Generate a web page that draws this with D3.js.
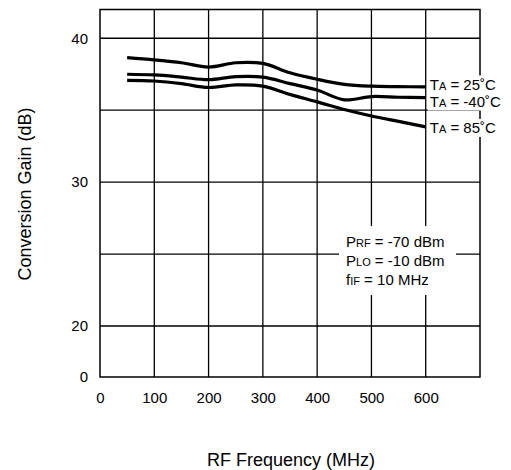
<!DOCTYPE html>
<html>
<head>
<meta charset="utf-8">
<script src="https://cdn.jsdelivr.net/npm/d3@7"></script>
<style>
  body { margin: 0; background: #fff; }
  text { font-family: "Liberation Sans", Arial, sans-serif; fill: #000; }
</style>
</head>
<body>
<div id="chart"></div>
<script>
// Data
var freqs = [50, 100, 150, 200, 250, 300, 350, 400, 450, 500, 550, 600];
var gain25 = [38.66, 38.5, 38.3, 38.0, 38.3, 38.25, 37.6, 37.15, 36.8, 36.67, 36.64, 36.62];
var gainM40 = [37.5, 37.45, 37.3, 37.12, 37.33, 37.3, 36.85, 36.4, 35.72, 35.95, 35.9, 35.88];
var gain85 = [37.08, 37.03, 36.85, 36.58, 36.76, 36.67, 36.1, 35.58, 35.05, 34.6, 34.22, 33.84];
var seriesLabels = ["25˚C", "-40˚C", "85˚C"];
var xTicks = [0, 100, 200, 300, 400, 500, 600];
var yTicks = [0, 20, 30, 40];
var yGrid = [20, 25, 30, 35, 40];

var svgWidth = 511, svgHeight = 470;

var svg = d3.select("#chart")
    .append("svg")
    .attr("width", svgWidth)
    .attr("height", svgHeight);

// scales (y axis is broken between 0 and 20)
var x = d3.scaleLinear().domain([0, 700]).range([100, 480]);
var y = d3.scaleLinear().domain([0, 20, 42]).range([377, 326, 9.5]);

// grid lines
svg.append("g")
    .selectAll("line.v")
    .data(xTicks.slice(1))
    .enter()
    .append("line")
    .attr("x1", d => x(d)).attr("x2", d => x(d))
    .attr("y1", y(42)).attr("y2", y(0))
    .attr("stroke", "#000").attr("stroke-width", 1.3);

svg.append("g")
    .selectAll("line.h")
    .data(yGrid)
    .enter()
    .append("line")
    .attr("x1", x(0)).attr("x2", x(700))
    .attr("y1", d => y(d)).attr("y2", d => y(d))
    .attr("stroke", "#000").attr("stroke-width", 1.3);

// frame
svg.append("rect")
    .attr("x", x(0)).attr("y", y(42))
    .attr("width", x(700) - x(0)).attr("height", y(0) - y(42))
    .attr("fill", "none").attr("stroke", "#000").attr("stroke-width", 1.5);

// tick labels
var xAxis = svg.append("g")
    .attr("transform", `translate(0,${y(0)})`)
    .call(d3.axisBottom(x).tickValues(xTicks).tickSize(0).tickPadding(15));
var yAxis = svg.append("g")
    .attr("transform", `translate(${x(0)},0)`)
    .call(d3.axisLeft(y).tickValues(yTicks).tickSize(0).tickPadding(12));
[xAxis, yAxis].forEach(function(a) {
    a.select(".domain").remove();
    a.selectAll("text")
        .style("font-family", '"Liberation Sans", Arial, sans-serif')
        .style("font-size", "15px");
});

// curves
var line = d3.line()
    .x(d => x(d[0]))
    .y(d => y(d[1]))
    .curve(d3.curveCatmullRom);

var allSeries = [gain25, gainM40, gain85];
allSeries.forEach(function(vals) {
    svg.append("path")
        .datum(freqs.map((f, i) => [f, vals[i]]))
        .attr("d", line)
        .attr("fill", "none")
        .attr("stroke", "#000")
        .attr("stroke-width", 3.2);
});

// curve labels (nudged apart so they don't collide)
var labelYpx = [y(gain25[11]) - 2.5, y(gainM40[11]) + 4, y(gain85[11]) + 1];
var lab = svg.append("g");
lab.append("rect")
    .attr("x", x(600) + 2).attr("y", labelYpx[0] - 9)
    .attr("width", 82).attr("height", labelYpx[1] - labelYpx[0] + 18)
    .attr("fill", "#fff");
lab.append("rect")
    .attr("x", x(600) + 2).attr("y", labelYpx[2] - 9)
    .attr("width", 82).attr("height", 18)
    .attr("fill", "#fff");
seriesLabels.forEach(function(s, i) {
    var t = lab.append("text")
        .attr("x", x(600) + 4)
        .attr("y", labelYpx[i])
        .attr("dy", "0.35em")
        .style("font-size", "15px");
    t.append("tspan").text("T");
    t.append("tspan").style("font-size", "11px").text("A");
    t.append("tspan").text(" = " + s);
});

// conditions box
var box = svg.append("g");
box.append("rect")
    .attr("x", 339).attr("y", 226)
    .attr("width", 117).attr("height", 69)
    .attr("fill", "#fff");
var cond = [["P", "RF", " = -70 dBm"], ["P", "LO", " = -10 dBm"], ["f", "IF", " = 10 MHz"]];
cond.forEach(function(c, i) {
    var t = box.append("text")
        .attr("x", 346)
        .attr("y", 242 + i * 19)
        .attr("dy", "0.35em")
        .style("font-size", "15px");
    t.append("tspan").text(c[0]);
    t.append("tspan").style("font-size", "11px").text(c[1]);
    t.append("tspan").text(c[2]);
});

// axis titles
svg.append("text")
    .attr("transform", "translate(31, 194) rotate(-90)")
    .attr("text-anchor", "middle")
    .style("font-size", "18px")
    .text("Conversion Gain (dB)");

svg.append("text")
    .attr("x", 291)
    .attr("y", 466)
    .attr("text-anchor", "middle")
    .style("font-size", "18px")
    .text("RF Frequency (MHz)");
</script>
</body>
</html>
